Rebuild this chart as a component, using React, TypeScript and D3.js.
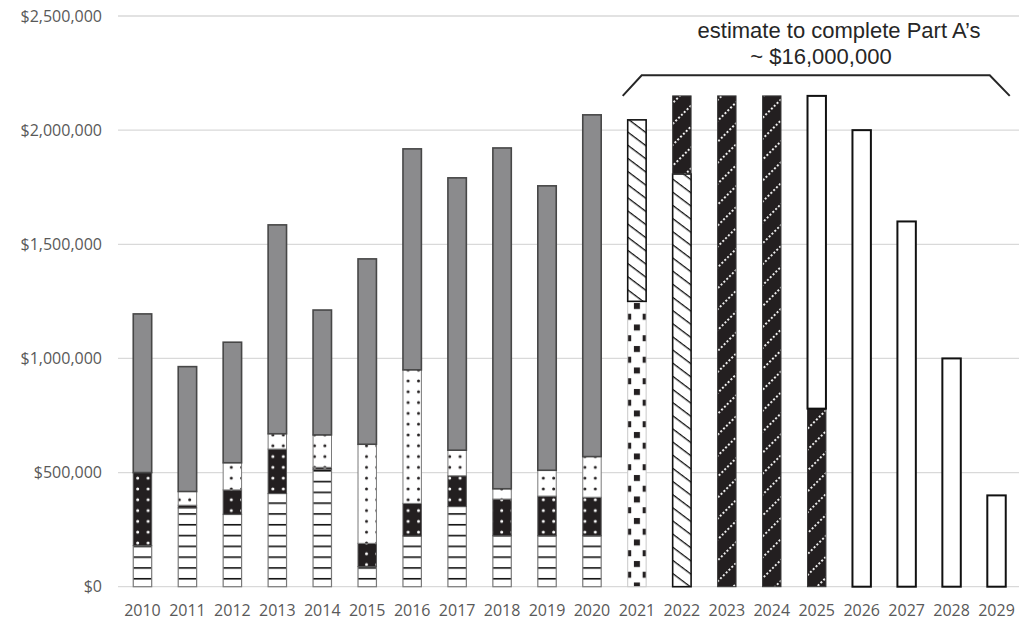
import React from 'react';
import * as d3 from 'd3';

const years = ['2010','2011','2012','2013','2014','2015','2016','2017','2018','2019','2020','2021','2022','2023','2024','2025','2026','2027','2028','2029'];
const stripes   = [180000,345000,317000,408000,515000, 88000,222000,351000,223000,223000,223000,0,0,0,0,0,0,0,0,0];
const blackDots = [320000, 12000,107000,195000,  8000,102000,143000,135000,161000,174000,169000,0,0,0,0,0,0,0,0,0];
const whiteDots = [     0, 60000,119000, 67000,142000,434000,585000,112000, 45000,113000,178000,0,0,0,0,0,0,0,0,0];
const grayFill  = [695000,547000,528000,915000,547000,812000,968000,1193000,1493000,1246000,1497000,0,0,0,0,0,0,0,0,0];
const squares   = [0,0,0,0,0,0,0,0,0,0,0,1250000,0,0,0,0,0,0,0,0];
const backslash = [0,0,0,0,0,0,0,0,0,0,0,795000,1808000,0,0,0,0,0,0,0];
const hatch     = [0,0,0,0,0,0,0,0,0,0,0,0,342000,2150000,2150000,780000,0,0,0,0];
const plain     = [0,0,0,0,0,0,0,0,0,0,0,0,0,0,0,1370000,2000000,1600000,1000000,400000];
const yTicks = [0, 500000, 1000000, 1500000, 2000000, 2500000];
const noteLine1 = 'estimate to complete Part A\u2019s';
const noteLine2 = '~ $16,000,000';

const keys = ['stripes','blackDots','whiteDots','gray','squares','backslash','hatch','plain'];
const seriesData: Record<string, number[]> = { stripes, blackDots, whiteDots, gray: grayFill, squares, backslash, hatch, plain };

const styles: Record<string, { fill: string; stroke: string; sw: number }> = {
  stripes: { fill: 'url(#pStripes)', stroke: '#7a7a7a', sw: 1.2 },
  blackDots: { fill: 'url(#pBlackDots)', stroke: '#555', sw: 1 },
  whiteDots: { fill: 'url(#pWhiteDots)', stroke: '#7a7a7a', sw: 1 },
  gray: { fill: '#8b8b8d', stroke: '#474747', sw: 1.6 },
  squares: { fill: 'url(#pSquares)', stroke: '#c8c8c8', sw: 1 },
  backslash: { fill: 'url(#pBackslash)', stroke: '#111', sw: 1.6 },
  hatch: { fill: 'url(#pHatch)', stroke: '#3a3a3a', sw: 1 },
  plain: { fill: '#ffffff', stroke: '#111', sw: 2 },
};

export default function App() {
  const W = 1030, H = 621;
  const x = d3.scaleBand<string>().domain(years).range([120, 1019]).paddingInner(0.59).paddingOuter(0.295);
  const y = d3.scaleLinear().domain([0, 2500000]).range([586.7, 16]);
  const bw = x.bandwidth();
  const table = years.map((yr, i) => {
    const row: any = { year: yr };
    keys.forEach(k => { row[k] = seriesData[k][i]; });
    return row;
  });
  const stacked = d3.stack().keys(keys)(table as any);
  const fmt = (v: number) => '$' + d3.format(',')(v);
  const sqX = (x('2021') as number) + bw / 2 - 8.7;

  const bx0 = (x('2021') as number) - 5;
  const bx1 = (x('2029') as number) + bw + 4;
  const by0 = y(2150000);
  const by1 = y(2240000);

  return (
    <svg width={W} height={H} style={{ position: 'absolute', left: 0, top: 0, display: 'block', background: '#fff' }}
      fontFamily="'Open Sans', sans-serif">
      <defs>
        <pattern id="pStripes" patternUnits="userSpaceOnUse" width={10} height={10.8} y={5.55}>
          <rect width={10} height={10.8} fill="#fff" />
          <rect y={0} width={10} height={1.6} fill="#111" />
        </pattern>
        <pattern id="pBlackDots" patternUnits="userSpaceOnUse" width={10.4} height={10.8} x={0} y={0}>
          <rect width={10.4} height={10.8} fill="#231f20" />
          <circle cx={2.5} cy={3} r={1.5} fill="#fff" />
        </pattern>
        <pattern id="pWhiteDots" patternUnits="userSpaceOnUse" width={10.4} height={10.8} x={0} y={0}>
          <rect width={10.4} height={10.8} fill="#fff" />
          <circle cx={2.5} cy={3} r={1.5} fill="#231f20" />
        </pattern>
        <pattern id="pSquares" patternUnits="userSpaceOnUse" width={17.4} height={21.5} x={sqX} y={0}>
          <rect width={17.4} height={21.5} fill="#fff" />
          <rect x={8.7 - 3} y={2} width={6} height={6} fill="#231f20" />
          <rect x={-3} y={12.75} width={6} height={6} fill="#231f20" />
          <rect x={17.4 - 3} y={12.75} width={6} height={6} fill="#231f20" />
        </pattern>
        <pattern id="pBackslash" patternUnits="userSpaceOnUse" width={20} height={10.5} patternTransform="rotate(37)">
          <rect width={20} height={10.5} fill="#fff" />
          <rect y={0} width={20} height={1.3} fill="#111" />
        </pattern>
        <pattern id="pHatch" patternUnits="userSpaceOnUse" width={20} height={14.8} patternTransform="rotate(-45)">
          <rect width={20} height={14.8} fill="#231f20" />
          <rect x={0} y={0} width={2} height={1.8} fill="#fff" />
          <rect x={4} y={0} width={2} height={1.8} fill="#fff" />
          <rect x={8} y={0} width={2} height={1.8} fill="#fff" />
          <rect x={12} y={0} width={2} height={1.8} fill="#fff" />
          <rect x={16} y={0} width={2} height={1.8} fill="#fff" />
        </pattern>
      </defs>

      {yTicks.map(t => (
        <g key={t}>
          <line x1={118} x2={1019} y1={y(t)} y2={y(t)} stroke="#d9d9d9" strokeWidth={1.3} />
          <text x={102} y={y(t) + 5.5} textAnchor="end" fontSize={16} fill="#595959">{fmt(t)}</text>
        </g>
      ))}

      {stacked.map(s => (
        <g key={s.key}>
          {s.map((d, i) => {
            const v = d[1] - d[0];
            if (v <= 0) return null;
            const st = styles[s.key];
            return (
              <rect key={i} x={x(years[i])} y={y(d[1])} width={bw} height={y(d[0]) - y(d[1])}
                fill={st.fill} stroke={st.stroke} strokeWidth={st.sw} />
            );
          })}
        </g>
      ))}

      {years.map(yr => (
        <text key={yr} x={(x(yr) as number) + bw / 2} y={616} textAnchor="middle" fontSize={16} fill="#595959">{yr}</text>
      ))}

      <path d={`M${bx0},${by0} L${bx0 + 19},${by1} L${bx1 - 20},${by1} L${bx1},${by0}`} fill="none" stroke="#262626" strokeWidth={2} />
      <text x={839} y={37.5} textAnchor="middle" fontSize={22} fontFamily="'Liberation Sans', Arial, sans-serif" fill="#262626">{noteLine1}</text>
      <text x={821} y={63.5} textAnchor="middle" fontSize={22} fontFamily="'Liberation Sans', Arial, sans-serif" fill="#262626">{noteLine2}</text>
    </svg>
  );
}
